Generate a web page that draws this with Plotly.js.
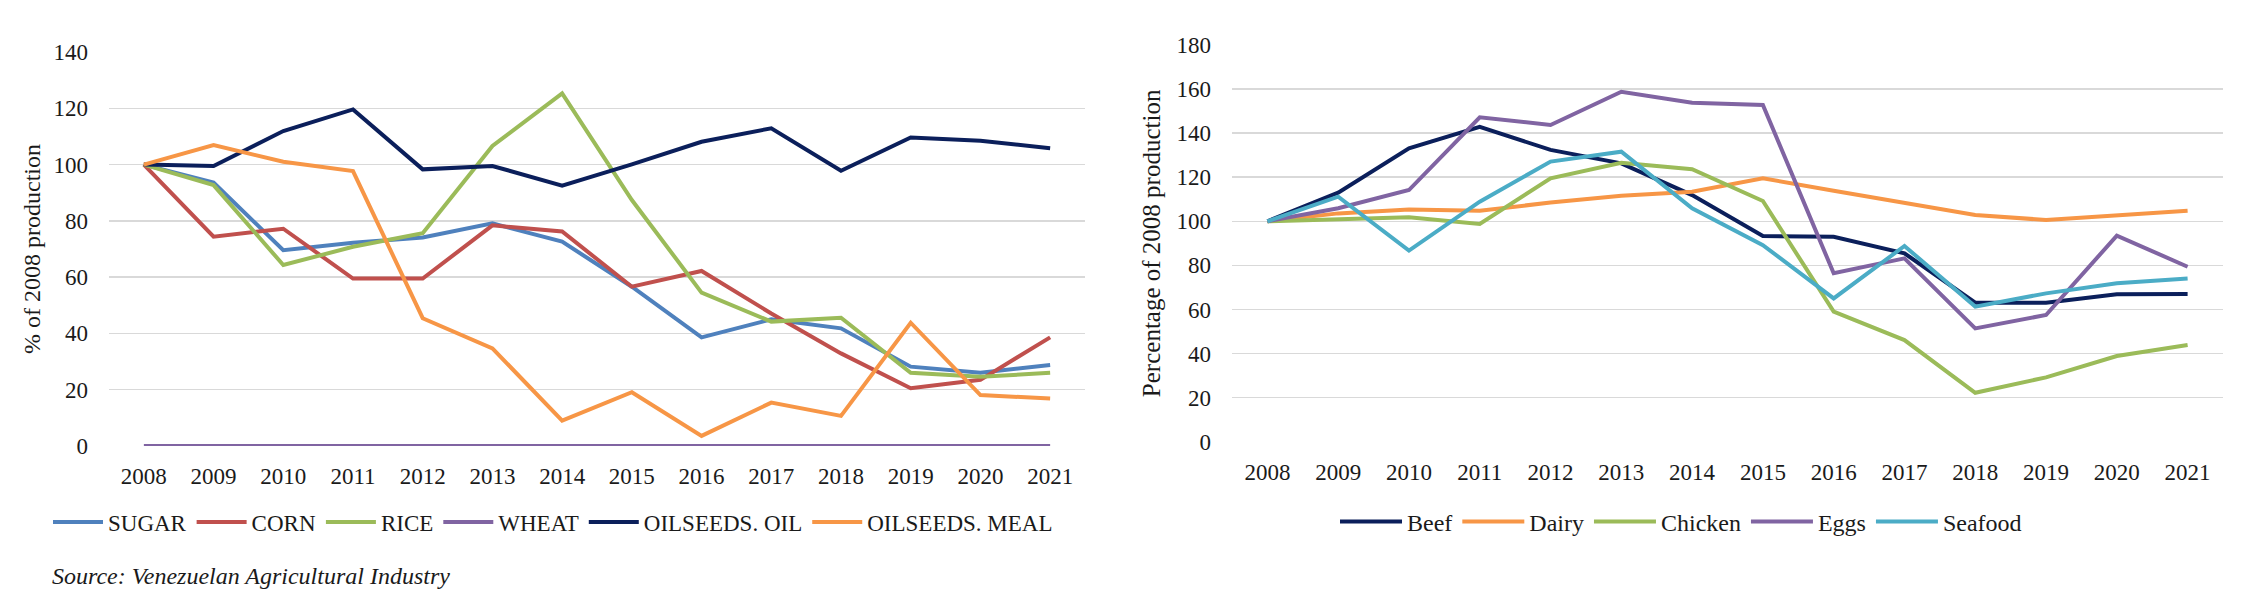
<!DOCTYPE html>
<html>
<head>
<meta charset="utf-8">
<script src="https://cdn.plot.ly/plotly-3.0.1.min.js"></script>
<style>
html,body{margin:0;padding:0;background:#fff;}
#chart{width:2242px;height:607px;}
</style>
</head>
<body>
<div id="chart"></div>
<script>
const years = ['2008','2009','2010','2011','2012','2013','2014','2015','2016','2017','2018','2019','2020','2021'];

// Left chart: crops (% of 2008 production)
const sugar        = [100, 93.6, 69.6, 72.2, 74.1, 79.1, 72.6, 56.6, 38.6, 45.0, 41.8, 28.2, 26.0, 28.8];
const corn         = [100, 74.4, 77.2, 59.5, 59.5, 78.4, 76.2, 56.6, 62.2, 47.1, 32.9, 20.5, 23.5, 38.6];
const rice         = [100, 92.7, 64.3, 70.8, 75.6, 106.6, 125.3, 87.4, 54.5, 44.2, 45.6, 26.0, 24.6, 26.0];
const wheat        = [0, 0, 0, 0, 0, 0, 0, 0, 0, 0, 0, 0, 0, 0];
const oilseedsOil  = [100, 99.5, 111.9, 119.6, 98.3, 99.5, 92.5, 100.1, 108.1, 112.9, 97.8, 109.6, 108.5, 105.8];
const oilseedsMeal = [100, 106.9, 101.0, 97.7, 45.4, 34.7, 9.0, 19.1, 3.6, 15.4, 10.7, 43.8, 18.1, 16.9];

// Right chart: animal products (percentage of 2008 production)
const beef    = [100, 113.0, 133.1, 142.9, 132.4, 126.3, 111.9, 93.3, 93.0, 85.5, 63.1, 63.1, 66.9, 67.0];
const dairy   = [100, 103.6, 105.4, 104.8, 108.5, 111.6, 113.4, 119.5, 113.9, 108.2, 102.9, 100.6, 102.9, 104.8];
const chicken = [100, 100.9, 101.8, 98.8, 119.5, 126.6, 123.6, 109.2, 59.0, 46.1, 22.2, 29.2, 38.9, 43.9];
const eggs    = [100, 105.9, 114.2, 147.2, 143.7, 158.8, 153.8, 152.8, 76.4, 83.2, 51.4, 57.5, 93.5, 79.4];
const seafood = [100, 111.2, 86.7, 108.9, 127.1, 131.6, 105.9, 89.2, 65.0, 88.8, 61.3, 67.3, 71.9, 74.1];

const leftNames  = ['SUGAR','CORN','RICE','WHEAT','OILSEEDS. OIL','OILSEEDS. MEAL'];
const rightNames = ['Beef','Dairy','Chicken','Eggs','Seafood'];

const leftSeries  = [sugar, corn, rice, wheat, oilseedsOil, oilseedsMeal];
const rightSeries = [beef, dairy, chicken, eggs, seafood];
const leftColors  = ['#4F81BD','#C0504D','#9BBB59','#8064A2','#0B1F5B','#F79646'];
const rightColors = ['#0B1F5B','#F79646','#9BBB59','#8064A2','#4BACC6'];

const FONT = 'Liberation Serif';
const TXT = '#1a1a1a';
const traces = [];
leftSeries.forEach((s, i) => traces.push({
  x: years, y: s, name: leftNames[i], type: 'scatter', mode: 'lines',
  line: {color: leftColors[i], width: 4}, xaxis: 'x', yaxis: 'y', legend: 'legend'
}));
rightSeries.forEach((s, i) => traces.push({
  x: years, y: s, name: rightNames[i], type: 'scatter', mode: 'lines',
  line: {color: rightColors[i], width: 4}, xaxis: 'x2', yaxis: 'y2', legend: 'legend2'
}));

const W = 2242, H = 607;
const px = v => v / W;
const py = v => (H - v) / H;
const f = (s) => ({family: FONT, size: s || 23, color: TXT});

const axisCommon = {
  showline: false, zeroline: false, ticks: ''
};

const layout = {
  width: W, height: H,
  margin: {l: 0, r: 0, t: 0, b: 0},
  paper_bgcolor: '#fff', plot_bgcolor: '#fff',
  font: f(),
  showlegend: true,
  xaxis: Object.assign({}, axisCommon, {
    tickfont: f(),
    domain: [px(109), px(1085)], type: 'category', range: [-0.5, 13.5],
    showgrid: false, anchor: 'y', ticklabelstandoff: 14
  }),
  yaxis: Object.assign({}, axisCommon, {
    tickfont: f(),
    domain: [py(446), py(52)], range: [0, 140], dtick: 20,
    showgrid: true, gridcolor: '#d9d9d9', gridwidth: 1.5, anchor: 'x',
    ticklabelstandoff: 20,
    title: {text: '% of 2008 production', font: f(24), standoff: 6}
  }),
  xaxis2: Object.assign({}, axisCommon, {
    tickfont: f(),
    domain: [px(1232), px(2223)], type: 'category', range: [-0.5, 13.5],
    showgrid: false, anchor: 'y2', ticklabelstandoff: 14
  }),
  yaxis2: Object.assign({}, axisCommon, {
    tickfont: f(),
    domain: [py(441.7), py(45)], range: [0, 180], dtick: 20,
    showgrid: true, gridcolor: '#d9d9d9', gridwidth: 1.5, anchor: 'x2',
    ticklabelstandoff: 20,
    title: {text: 'Percentage of 2008 production', font: f(25), standoff: 8}
  }),
  legend: {
    orientation: 'h', x: px(553), y: py(522), xanchor: 'center', yanchor: 'middle',
    font: f(), bgcolor: 'rgba(0,0,0,0)', traceorder: 'normal', itemwidth: 50
  },
  legend2: {
    orientation: 'h', x: px(1681), y: py(522), xanchor: 'center', yanchor: 'middle',
    font: f(24), bgcolor: 'rgba(0,0,0,0)', traceorder: 'normal', itemwidth: 62
  },
  annotations: [{
    text: '<i>Source: Venezuelan Agricultural Industry</i>',
    xref: 'paper', yref: 'paper', x: px(50), y: py(576), xanchor: 'left', yanchor: 'middle',
    showarrow: false, font: f(24)
  }]
};

Plotly.newPlot('chart', traces, layout, {displayModeBar: false, staticPlot: true});
</script>
</body>
</html>
